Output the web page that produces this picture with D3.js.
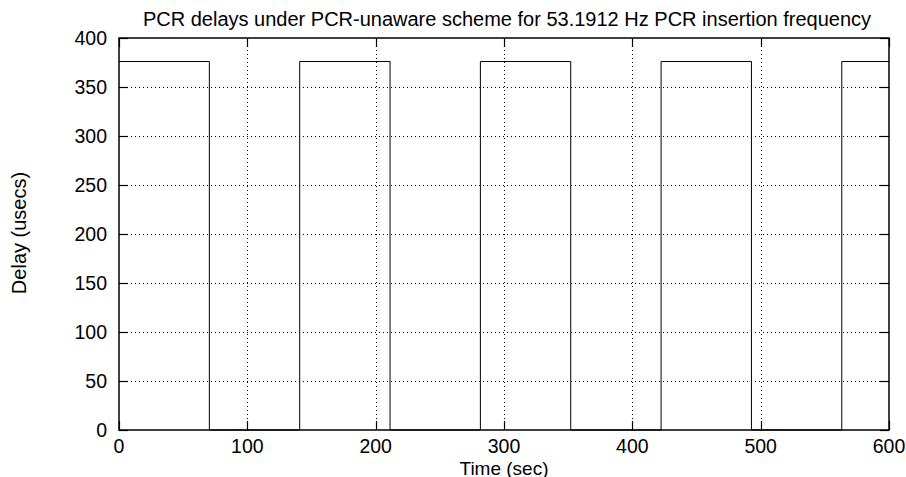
<!DOCTYPE html>
<html>
<head>
<meta charset="utf-8">
<script src="https://cdn.jsdelivr.net/npm/d3@7"></script>
<style>
  html, body { margin: 0; padding: 0; background: #fff; }
  svg text { font-family: "Liberation Sans", Arial, Helvetica, sans-serif; fill: #000; }
</style>
</head>
<body>
<svg id="chart" width="906" height="477"></svg>
<script>
// PCR delay step trace: delay holds from each time until the next one
const times  = [0, 70.4, 140.8, 211.2, 281.6, 352.0, 422.4, 492.8, 563.2, 600];
const delays = [376, 0, 376, 0, 376, 0, 376, 0, 376, 376];

const xTicks = [0, 100, 200, 300, 400, 500, 600];
const yTicks = [0, 50, 100, 150, 200, 250, 300, 350, 400];

const titleText = "PCR delays under PCR-unaware scheme for 53.1912 Hz PCR insertion frequency";
const xLabel = "Time (sec)";
const yLabel = "Delay (usecs)";

const W = 906, H = 477;
const margin = { left: 119, right: 17, top: 38, bottom: 47 };
const svg = d3.select("#chart");

const x = d3.scaleLinear().domain([0, 600]).range([margin.left, W - margin.right]);
const y = d3.scaleLinear().domain([0, 400]).range([H - margin.bottom, margin.top]);

const x0 = x.range()[0], x1 = x.range()[1];
const y0 = y.range()[0], y1 = y.range()[1];

// dotted grid
const grid = svg.append("g").attr("stroke", "#000").attr("stroke-width", 1)
  .attr("stroke-dasharray", "1,3").attr("fill", "none");
xTicks.slice(1, -1).forEach(t => {
  grid.append("line").attr("x1", Math.round(x(t)) + 0.5).attr("x2", Math.round(x(t)) + 0.5)
    .attr("y1", y1).attr("y2", y0);
});
yTicks.slice(1, -1).forEach(t => {
  grid.append("line").attr("y1", Math.round(y(t)) + 0.5).attr("y2", Math.round(y(t)) + 0.5)
    .attr("x1", x0).attr("x2", x1);
});

// inward tick marks on all four sides
const tickLen = 9;
const ticks = svg.append("g").attr("stroke", "#000").attr("stroke-width", 1.2);
xTicks.forEach(t => {
  const px = Math.round(x(t)) + 0.5;
  ticks.append("line").attr("x1", px).attr("x2", px).attr("y1", y0).attr("y2", y0 - tickLen);
  ticks.append("line").attr("x1", px).attr("x2", px).attr("y1", y1).attr("y2", y1 + tickLen);
});
yTicks.forEach(t => {
  const py = Math.round(y(t)) + 0.5;
  ticks.append("line").attr("y1", py).attr("y2", py).attr("x1", x0).attr("x2", x0 + tickLen);
  ticks.append("line").attr("y1", py).attr("y2", py).attr("x1", x1).attr("x2", x1 - tickLen);
});

// data trace
const line = d3.line().x((d, i) => x(times[i])).y(d => y(d)).curve(d3.curveStepAfter);
svg.append("path").datum(delays)
  .attr("d", line)
  .attr("fill", "none").attr("stroke", "#000").attr("stroke-width", 1);

// frame
svg.append("rect").attr("x", x0).attr("y", y1).attr("width", x1 - x0).attr("height", y0 - y1)
  .attr("fill", "none").attr("stroke", "#000").attr("stroke-width", 1.5);

// tick labels
const fs = 19.5;
xTicks.forEach(t => {
  svg.append("text").attr("x", x(t)).attr("y", y0 + 23).attr("text-anchor", "middle")
    .attr("font-size", fs).text(t);
});
yTicks.forEach(t => {
  svg.append("text").attr("x", x0 - 12).attr("y", y(t) + 7).attr("text-anchor", "end")
    .attr("font-size", fs).text(t);
});

// titles
svg.append("text").attr("x", (x0 + x1) / 2 + 3).attr("y", 26).attr("text-anchor", "middle")
  .attr("font-size", 20).text(titleText);
svg.append("text").attr("x", (x0 + x1) / 2).attr("y", 474.5).attr("text-anchor", "middle")
  .attr("font-size", 19).text(xLabel);
svg.append("text").attr("transform", `translate(26, ${(y0 + y1) / 2 - 1}) rotate(-90)`)
  .attr("text-anchor", "middle").attr("font-size", 20).text(yLabel);
</script>
</body>
</html>
